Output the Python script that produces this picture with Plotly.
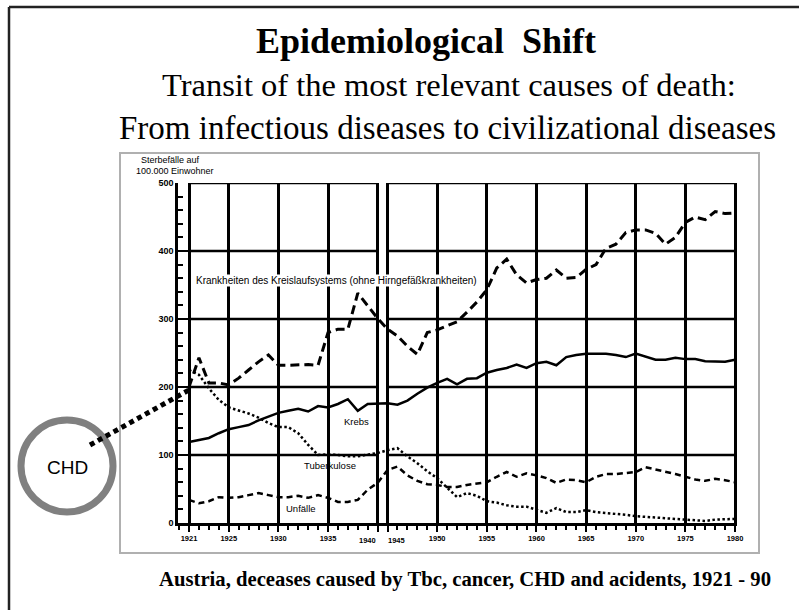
import plotly.graph_objects as go

# ---------------- data ----------------
years_pre = list(range(1921, 1941))
years_post = list(range(1945, 1981))

kreislauf_pre = [200, 243, 206, 206, 203, 213, 225, 237, 247, 232, 232, 233, 233, 232, 280, 285, 285, 338, 320, 301]
kreislauf_post = [285, 275, 260, 248, 280, 284, 290, 296, 310, 325, 343, 375, 388, 365, 353, 358, 360, 372, 360, 361,
                  373, 380, 404, 410, 427, 431, 431, 426, 410, 420, 442, 450, 446, 458, 455, 456]

krebs_pre = [119, 122, 125, 132, 138, 141, 144, 151, 156, 162, 165, 168, 164, 172, 170, 175, 182, 165, 175, 176]
krebs_post = [176, 174, 180, 190, 199, 206, 212, 204, 212, 213, 221, 225, 228, 233, 228, 235, 237, 232, 244, 247,
              249, 249, 249, 247, 244, 249, 244, 240, 240, 243, 241, 241, 238, 237, 237, 240]

tbc_pre = [225, 218, 198, 181, 170, 166, 161, 155, 147, 141, 141, 132, 115, 100, 101, 100, 98, 98, 100, 103]
tbc_post = [107, 110, 98, 88, 76, 66, 52, 38, 44, 40, 32, 30, 26, 24, 24, 20, 15, 22, 16, 16,
            19, 16, 15, 13, 12, 10, 9, 9, 8, 6, 5, 4, 3, 5, 6, 6]

unfaelle_pre = [34, 29, 32, 38, 37, 38, 41, 44, 41, 38, 38, 40, 37, 41, 37, 31, 31, 34, 49, 59]
unfaelle_post = [78, 83, 70, 62, 57, 56, 53, 53, 56, 58, 60, 68, 75, 68, 73, 70, 66, 59, 64, 63,
                 60, 68, 72, 72, 73, 75, 82, 79, 75, 72, 68, 64, 62, 65, 63, 60]

tick_years = [1921, 1925, 1930, 1935, 1940, 1945, 1950, 1955, 1960, 1965, 1970, 1975, 1980]
break_years = [1940, 1945]  # labels either side of the axis break
y_ticks = [0, 100, 200, 300, 400, 500]

# ---------------- axis break mapping (1941-44 omitted) ----------------
GAP = 4  # years removed between panels


def pos(year):
    return year if year <= 1940 else year - GAP


years = years_pre + years_post
xpos = [pos(y) for y in years]

# ---------------- pixel helpers for decorations ----------------
PL, PR, PT, PB = 178, 737, 183, 523
W, H = 799, 610


def px(x):
    return (x - PL) / (PR - PL)


def py(y):
    return (PB - y) / (PB - PT)


fig = go.Figure()

series = [
    (kreislauf_pre + kreislauf_post, dict(width=3, dash="9px,5px")),
    (krebs_pre + krebs_post, dict(width=2.5)),
    (tbc_pre + tbc_post, dict(width=2.5, dash="2.5px,2.5px")),
    (unfaelle_pre + unfaelle_post, dict(width=2.5, dash="6px,4px")),
]
for vals, ln in series:
    fig.add_trace(go.Scatter(x=xpos, y=vals, mode="lines",
                             line=dict(color="black", **ln), showlegend=False,
                             hoverinfo="skip"))

shapes = []
# horizontal grid lines per panel
panels = [(pos(years_pre[0]), pos(years_pre[-1])), (pos(years_post[0]), pos(years_post[-1]))]
for yv in y_ticks[1:]:
    for x0, x1 in panels:
        shapes.append(dict(type="line", xref="x", yref="y", x0=x0, x1=x1, y0=yv, y1=yv,
                           line=dict(color="black", width=2.5), layer="below"))

# outer slide frame (top and left)
shapes.append(dict(type="line", xref="paper", yref="paper", x0=px(9), x1=px(799), y0=py(7), y1=py(7),
                   line=dict(color="#222", width=2.5)))
shapes.append(dict(type="line", xref="paper", yref="paper", x0=px(9), x1=px(9), y0=py(7), y1=py(610),
                   line=dict(color="#222", width=2.5)))
# gray box around the scanned chart
shapes.append(dict(type="rect", xref="paper", yref="paper", x0=px(120), x1=px(759), y0=py(153), y1=py(553),
                   line=dict(color="#b0b0b0", width=2)))
# CHD circle
shapes.append(dict(type="circle", xref="paper", yref="paper", x0=px(67 - 46), x1=px(67 + 46),
                   y0=py(466 - 46), y1=py(466 + 46), line=dict(color="#808080", width=7),
                   fillcolor="white"))
# dotted connector
shapes.append(dict(type="line", xref="paper", yref="paper", x0=px(90), y0=py(445), x1=px(189), y1=py(390),
                   line=dict(color="black", width=5, dash="5px,4px")))

annotations = []
serif = "Liberation Serif"
annotations.append(dict(text="<b>Epidemiological  Shift</b>", x=px(426), y=py(41), xref="paper", yref="paper",
                        showarrow=False, font=dict(family=serif, size=36, color="black"),
                        xanchor="center", yanchor="middle"))
annotations.append(dict(text="Transit of the most relevant causes of death:", x=px(449), y=py(85),
                        xref="paper", yref="paper", showarrow=False,
                        font=dict(family=serif, size=32.5, color="black"), xanchor="center", yanchor="middle"))
annotations.append(dict(text="From infectious diseases to civilizational diseases", x=px(447), y=py(128),
                        xref="paper", yref="paper", showarrow=False,
                        font=dict(family=serif, size=33, color="black"), xanchor="center", yanchor="middle"))
annotations.append(dict(text="<b>Austria, deceases caused by Tbc, cancer, CHD and acidents, 1921 - 90</b>",
                        x=px(465), y=py(579), xref="paper", yref="paper", showarrow=False,
                        font=dict(family=serif, size=20.7, color="black"), xanchor="center", yanchor="middle"))
annotations.append(dict(text="CHD", x=px(67), y=py(467), xref="paper", yref="paper", showarrow=False,
                        font=dict(family="Liberation Sans", size=19, color="black"),
                        xanchor="center", yanchor="middle"))
# y-axis title
ytitle_font = dict(family="Liberation Sans", size=9, color="black")
annotations.append(dict(text="Sterbefälle auf", x=px(170), y=py(160), xref="paper", yref="paper",
                        showarrow=False, font=ytitle_font, xanchor="center", yanchor="middle"))
annotations.append(dict(text="100.000 Einwohner", x=px(175), y=py(171), xref="paper", yref="paper",
                        showarrow=False, font=ytitle_font, xanchor="center", yanchor="middle"))
# series labels
small = dict(family="Liberation Sans", size=9.5, color="black")
annotations.append(dict(text="Krankheiten des Kreislaufsystems (ohne Hirngefäßkrankheiten)", x=1935.9, y=357,
                        xref="x", yref="y", showarrow=False,
                        font=dict(family="Liberation Sans", size=10, color="black"), bgcolor="white",
                        borderpad=0))
annotations.append(dict(text="Krebs", x=1937.9, y=150, xref="x", yref="y", showarrow=False, font=small))
annotations.append(dict(text="Tuberkulose", x=1935.2, y=84, xref="x", yref="y", showarrow=False, font=small))
annotations.append(dict(text="Unfälle", x=1932.3, y=22, xref="x", yref="y", showarrow=False, font=small))

# x tick labels at the axis break, pushed apart so they do not collide
xtick_font = dict(family="Liberation Sans", size=7.5, color="black", weight="bold")
annotations.append(dict(text=str(break_years[0]), x=pos(break_years[0]) + 0.05, y=py(540), xref="x",
                        yref="paper", showarrow=False, font=xtick_font, xanchor="right", yanchor="middle"))
annotations.append(dict(text=str(break_years[1]), x=pos(break_years[1]) - 0.2, y=py(540), xref="x",
                        yref="paper", showarrow=False, font=xtick_font, xanchor="left", yanchor="middle"))

fig.update_layout(
    width=W, height=H,
    margin=dict(l=PL, r=W - PR, t=PT, b=H - PB, pad=0),
    paper_bgcolor="white", plot_bgcolor="white",
    shapes=shapes, annotations=annotations,
    showlegend=False,
)
fig.update_xaxes(
    range=[1919.89, 1976.2],
    tickvals=[pos(y) for y in tick_years],
    ticktext=["" if y in break_years else str(y) for y in tick_years],
    tickangle=0,
    showgrid=True, gridcolor="black", gridwidth=2.5,
    showline=True, linecolor="black", linewidth=2.5,
    ticks="outside", ticklen=6, tickwidth=1.5, tickcolor="black",
    minor=dict(dtick=1, tick0=1921, ticks="outside", ticklen=4, tickwidth=1.5, tickcolor="black", showgrid=False),
    tickfont=xtick_font,
    zeroline=False,
)
fig.update_yaxes(
    range=[0, 500], tickvals=y_ticks,
    showgrid=False, zeroline=False,
    showline=True, linecolor="black", linewidth=2.5,
    ticks="inside", ticklen=10, tickwidth=2, tickcolor="black",
    minor=dict(dtick=20, ticks="inside", ticklen=5, tickwidth=1.5, tickcolor="black", showgrid=False),
    tickfont=dict(family="Liberation Sans", size=9, color="black", weight="bold"),
)

fig.write_html("out.html", config={"displayModeBar": False},
               post_script="document.body.style.margin='0';")
